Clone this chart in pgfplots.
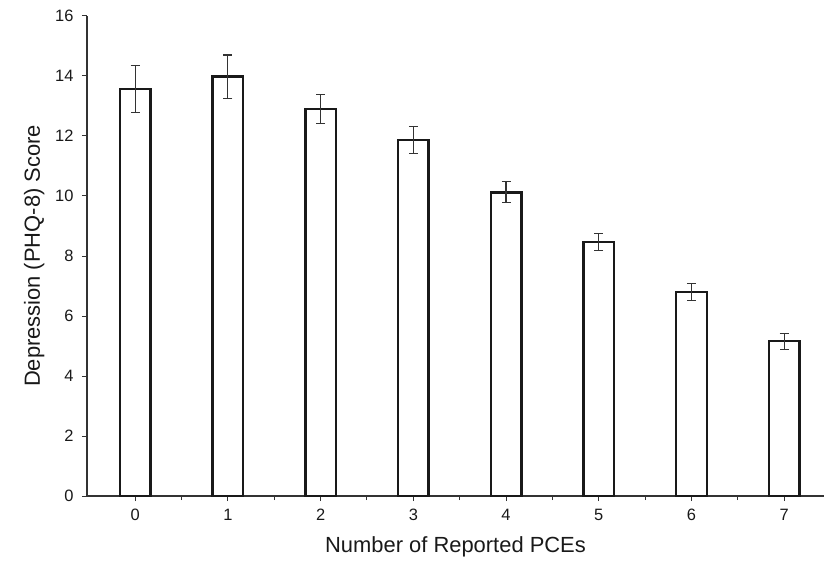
\documentclass[border=0pt]{standalone}
\usepackage{pgfplots}
\pgfplotsset{compat=1.18}
\usepackage{fontspec}
\setmainfont{Liberation Sans}
\begin{document}
\begin{tikzpicture}
\begin{axis}[
  scale only axis, width=737bp, height=480bp,
  xmin=-0.52, xmax=7.43, ymin=0, ymax=16,
  axis x line*=bottom, axis y line*=left,
  axis line style={-, line width=1.2pt, black!80},
  xtick={0,...,7}, minor xtick={0.5,1.5,...,6.5},
  ytick={0,2,...,16},
  tick align=outside, major tick length=5bp, minor tick length=4bp,
  tick style={black!80, line width=1pt},
  every minor tick/.style={black!80, line width=1pt},
  ticklabel style={font=\fontsize{16.5}{19}\selectfont, text=black!90},
  /pgf/number format/assume math mode=true,
  xticklabel style={yshift=-5bp},
  yticklabel style={xshift=-5bp},
  xlabel={Number of Reported PCEs},
  ylabel={Depression (PHQ-8) Score},
  label style={font=\fontsize{22}{26}\selectfont, text=black!90},
  xlabel style={yshift=-9bp},
  ylabel style={yshift=4bp},
  ybar, bar width=0.33,
  clip=false,
]
\addplot[fill=white, draw=black!90, line width=2.4pt,
  error bars/.cd, y dir=both, y explicit,
  error bar style={line width=1.1pt, black!80},
  error mark options={rotate=90, mark size=4.5bp, line width=1.1pt, black!80}]
  table[x=x, y=y, y error=e] {
x y e
0 13.56 0.78
1 13.98 0.72
2 12.91 0.48
3 11.87 0.44
4 10.12 0.35
5 8.47 0.29
6 6.80 0.27
7 5.16 0.27
};
\end{axis}
\pgfresetboundingbox
\path[use as bounding box] ([xshift=-87bp,yshift=-69bp]current axis.south west) rectangle ([yshift=16bp]current axis.north east);
\end{tikzpicture}
\end{document}
